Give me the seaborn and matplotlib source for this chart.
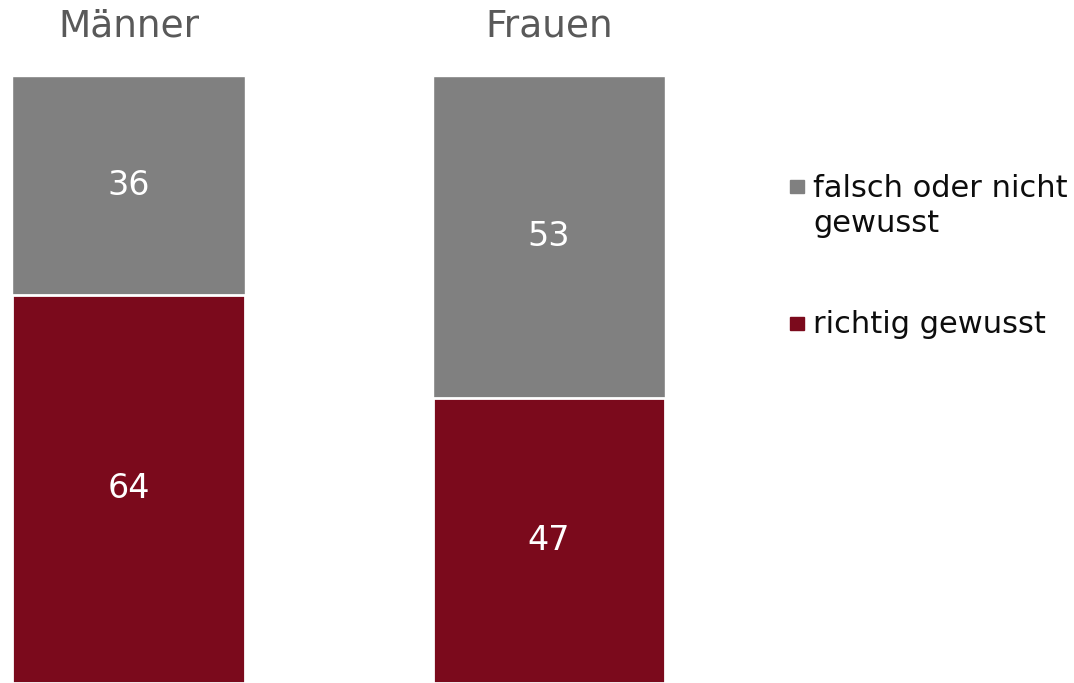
import matplotlib
matplotlib.use("Agg")
import matplotlib.pyplot as plt
import seaborn as sns
import pandas as pd
from matplotlib.patches import Rectangle

# Daten
gruppen = ["Männer", "Frauen"]
richtig = [64, 47]
falsch = [36, 53]
legende = ["falsch oder nicht\ngewusst", "richtig gewusst"]

rot = "#7B0A1C"
grau = "#808080"

sns.set_theme(style="white")
plt.rcParams["font.family"] = ["DejaVu Sans"]

df = pd.DataFrame({"gruppe": gruppen, "richtig": richtig, "falsch": falsch})
df["gesamt"] = df["richtig"] + df["falsch"]

W, H = 1074, 683
fig = plt.figure(figsize=(W / 100, H / 100), dpi=100)
ax = fig.add_axes([0, 0, 1, (H - 76) / H])

# gestapelt: erst die Summe in grau, darüber der rote Anteil
sns.barplot(data=df, x="gruppe", y="gesamt", color=grau, width=0.554,
            saturation=1, ax=ax)
sns.barplot(data=df, x="gruppe", y="richtig", color=rot, width=0.554,
            saturation=1, ax=ax, edgecolor="white", linewidth=2)

for i, r in df.iterrows():
    ax.text(i, r["richtig"] / 2, f"{r['richtig']}", ha="center", va="center",
            color="white", fontsize=24)
    ax.text(i, r["richtig"] + r["falsch"] / 2, f"{r['falsch']}", ha="center",
            va="center", color="white", fontsize=24)
    ax.text(i, 108.1, r["gruppe"], ha="center", va="center", color="#595959",
            fontsize=27, clip_on=False)

ax.set_xlim(-128.5 / 420.5, (W - 128.5) / 420.5)
ax.set_ylim(0, 100)
ax.axis("off")

# Legende von Hand, Quadrat an der ersten Zeile ausgerichtet
eintraege = [(legende[0], grau, 180, [197, 232]),
             (legende[1], rot, 317, [333])]
for text, farbe, qy, baselines in eintraege:
    fig.add_artist(Rectangle((790 / W, 1 - (qy + 13) / H), 14 / W, 13 / H,
                             transform=fig.transFigure, color=farbe))
    for zeile, by in zip(text.split("\n"), baselines):
        fig.text(813 / W, 1 - by / H, zeile, ha="left", va="baseline",
                 fontsize=22, color="#0d0d0d")

fig.savefig("out.png", dpi=100)
